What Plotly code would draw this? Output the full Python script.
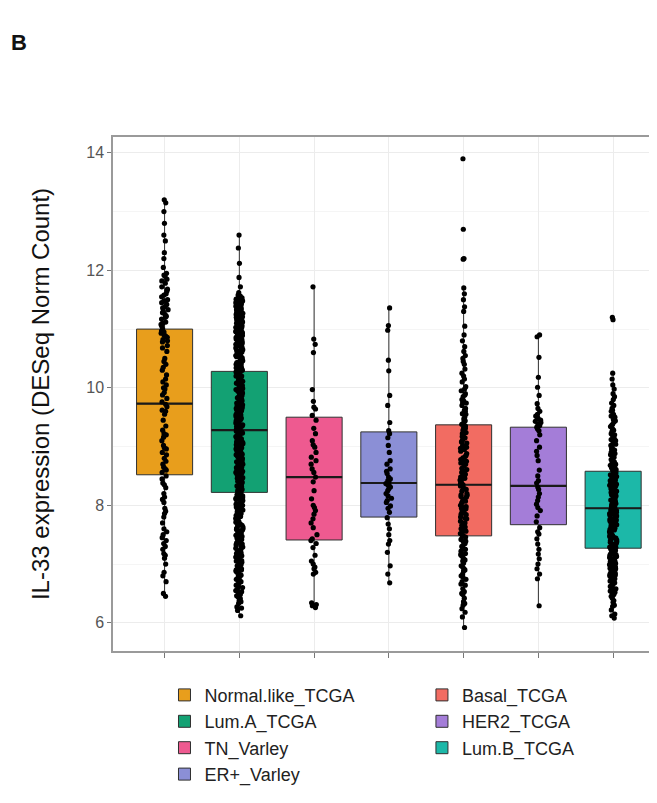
import plotly.graph_objects as go

categories = ["Normal.like_TCGA", "Lum.A_TCGA", "TN_Varley", "ER+_Varley",
              "Basal_TCGA", "HER2_TCGA", "Lum.B_TCGA"]

# box statistics
q1s = [8.52, 8.22, 7.41, 7.80, 7.48, 7.67, 7.27]
medians = [9.73, 9.28, 8.48, 8.38, 8.35, 8.33, 7.95]
q3s = [11.00, 10.28, 9.50, 9.25, 9.37, 9.33, 8.58]
lowers = [6.45, 6.12, 6.27, 6.68, 5.92, 6.28, 6.08]
uppers = [13.20, 12.60, 11.72, 11.38, 11.70, 10.90, 10.25]

# individual samples
normal_like = [13.2, 13.15, 13.0, 12.8, 12.6, 12.5, 12.3, 12.2, 12.05, 11.95, 11.9, 11.85,
               11.78, 11.72, 11.65, 11.6, 11.55, 11.5, 11.45, 11.42, 11.38, 11.33, 11.3, 11.25,
               11.2, 11.17, 11.12, 11.08, 11.05, 11.0, 10.97, 10.93, 10.9, 10.86, 10.82, 10.78,
               10.72, 10.62, 10.5, 10.45, 10.35, 10.3, 10.22, 10.15, 10.1, 10.05, 9.98, 9.92,
               9.88, 9.82, 9.76, 9.72, 9.68, 9.62, 9.55, 9.45, 9.35, 9.28, 9.22, 9.16,
               9.1, 9.02, 8.96, 8.9, 8.86, 8.8, 8.75, 8.7, 8.65, 8.6, 8.56, 8.5,
               8.45, 8.38, 8.3, 8.2, 8.14, 8.05, 7.95, 7.86, 7.8, 7.7, 7.6, 7.5,
               7.45, 7.4, 7.35, 7.3, 7.25, 7.18, 7.1, 7.0, 6.86, 6.8, 6.7, 6.5, 6.45,
               11.92, 11.82, 11.68, 11.58, 11.48, 11.36, 11.28, 11.22, 11.1, 10.95, 10.88,
               10.8, 10.68, 10.4, 10.0, 9.6, 9.2, 8.98, 8.62, 8.35, 8.1, 7.9, 7.55, 7.15]

lum_a = [6.12, 6.21, 6.27, 6.33, 6.36, 6.41, 6.44, 6.48, 6.53, 6.57, 6.6, 6.64, 6.66, 6.71,
         6.74, 6.77, 6.81, 6.84, 6.86, 6.9, 6.93, 6.97, 6.99, 7.03, 7.06, 7.08, 7.12, 7.14,
         7.18, 7.21, 7.23, 7.27, 7.29, 7.33, 7.36, 7.38, 7.42, 7.44, 7.47, 7.51, 7.53, 7.56,
         7.59, 7.61, 7.65, 7.68, 7.7, 7.73, 7.76, 7.78, 7.81, 7.84, 7.87, 7.89, 7.92, 7.95,
         7.97, 8.0, 8.03, 8.05, 8.08, 8.1, 8.13, 8.16, 8.18, 8.21, 8.23, 8.26, 8.28, 8.31,
         8.33, 8.36, 8.38, 8.41, 8.43, 8.46, 8.48, 8.51, 8.53, 8.56, 8.58, 8.6, 8.63, 8.65,
         8.68, 8.7, 8.72, 8.75, 8.77, 8.8, 8.82, 8.84, 8.87, 8.89, 8.92, 8.94, 8.96, 8.99,
         9.01, 9.03, 9.06, 9.08, 9.1, 9.13, 9.15, 9.17, 9.2, 9.22, 9.24, 9.27, 9.29, 9.31,
         9.34, 9.36, 9.38, 9.41, 9.43, 9.45, 9.48, 9.5, 9.52, 9.55, 9.57, 9.59, 9.62, 9.64,
         9.66, 9.69, 9.71, 9.73, 9.76, 9.78, 9.8, 9.83, 9.85, 9.87, 9.9, 9.92, 9.94, 9.97,
         9.99, 10.01, 10.04, 10.06, 10.08, 10.11, 10.13, 10.15, 10.18, 10.2, 10.22, 10.25,
         10.27, 10.29, 10.32, 10.34, 10.36, 10.39, 10.41, 10.43, 10.46, 10.48, 10.5, 10.53,
         10.55, 10.57, 10.6, 10.62, 10.64, 10.67, 10.69, 10.71, 10.74, 10.76, 10.78, 10.81,
         10.83, 10.85, 10.88, 10.9, 10.92, 10.95, 10.97, 10.99, 11.02, 11.04, 11.06, 11.09,
         11.11, 11.13, 11.16, 11.18, 11.2, 11.23, 11.25, 11.27, 11.3, 11.32, 11.34, 11.37,
         11.39, 11.41, 11.44, 11.46, 11.48, 11.51, 11.53, 11.55, 11.58, 11.62, 11.72, 11.88,
         12.12, 12.38, 12.6,
         6.55, 6.9, 7.25, 7.6, 7.95, 8.3, 8.65, 9.0, 9.35, 9.7, 10.05, 10.4, 10.75, 11.1,
         11.45, 6.7, 7.05, 7.4, 7.75, 8.1, 8.45, 8.8, 9.15, 9.5, 9.85, 10.2, 10.55, 10.9,
         11.25, 11.5, 11.35, 11.15, 10.95, 8.25, 8.55, 8.85, 9.05, 9.25, 9.45, 9.65,
         6.25, 6.38, 6.46, 6.62, 6.68, 6.79, 6.88, 6.95, 7.01, 7.1, 7.16, 7.19, 7.31, 7.34,
         7.46, 7.49, 7.58, 7.63, 7.66, 7.71, 7.79, 7.83, 7.86, 7.91, 7.98, 8.02, 8.07, 8.12,
         8.15, 8.19, 8.22, 8.27, 8.32, 8.35, 8.39, 8.42, 8.47, 8.52, 8.57, 8.62, 8.64, 8.69,
         8.73, 8.76, 8.79, 8.83, 8.86, 8.91, 8.95, 8.98, 9.02, 9.07, 9.11, 9.14, 9.19, 9.23,
         9.26, 9.3, 9.33, 9.37, 9.4, 9.44, 9.47, 9.51, 9.54, 9.58, 9.61, 9.63, 9.67, 9.7,
         9.74, 9.77, 9.81, 9.84, 9.88, 9.91, 9.95, 9.98, 10.02, 10.05, 10.09, 10.12, 10.16,
         10.19, 10.23, 10.26, 10.3, 10.33, 10.37, 10.4, 10.44, 10.47, 10.51, 10.54, 10.58,
         10.61, 10.65, 10.68, 10.72, 10.75, 10.79, 10.82, 10.86, 10.89, 10.93, 10.96, 11.0,
         11.03, 11.07, 11.1, 11.14, 11.17, 11.21, 11.24, 11.28, 11.31, 11.35, 11.38, 11.42,
         11.45, 11.49, 11.52, 11.56, 11.12, 11.22, 11.33, 11.43, 11.03, 10.93, 10.84, 6.52,
         6.73, 6.92, 7.13, 7.37, 7.54, 7.74, 7.93, 8.14, 8.34, 8.54, 8.74, 8.94, 9.14, 9.34,
         9.54, 9.74, 9.94, 10.14, 10.34, 10.54, 10.74, 10.94]

tn_varley = [11.72, 10.83, 10.74, 10.6, 9.97, 9.77, 9.67, 9.64, 9.53, 9.45, 9.31, 9.22,
             9.1, 9.03, 8.99, 8.9, 8.82, 8.76, 8.7, 8.62, 8.56, 8.48, 8.4, 8.25, 8.11,
             8.0, 7.96, 7.91, 7.85, 7.77, 7.7, 7.62, 7.5, 7.43, 7.4, 7.35, 7.28, 7.15,
             7.05, 7.0, 6.95, 6.92, 6.86, 6.83, 6.34, 6.31, 6.29, 6.26]

er_varley = [11.36, 11.06, 10.98, 10.47, 10.29, 9.87, 9.7, 9.41, 9.27, 9.22, 9.15, 9.02,
             8.9, 8.76, 8.7, 8.62, 8.58, 8.54, 8.48, 8.45, 8.42, 8.4, 8.37, 8.35, 8.33,
             8.31, 8.28, 8.25, 8.2, 8.16, 8.12, 8.08, 8.05, 7.99, 7.95, 7.88, 7.79, 7.68,
             7.6, 7.5, 7.4, 7.34, 7.2, 6.97, 6.83, 6.68]

basal = [13.9, 12.7, 12.2, 12.19, 11.7, 11.6, 11.5, 11.38, 11.3, 11.05, 10.9, 10.7, 10.62,
         10.55, 10.45, 10.4, 10.32, 10.25, 10.15, 10.1, 10.02, 9.98, 9.9, 9.85, 9.8, 9.74,
         9.7, 9.65, 9.6, 9.56, 9.5, 9.47, 9.42, 9.38, 9.35, 9.31, 9.28, 9.24, 9.2, 9.17,
         9.13, 9.1, 9.06, 9.02, 8.99, 8.95, 8.92, 8.88, 8.85, 8.81, 8.78, 8.74, 8.7, 8.67,
         8.63, 8.6, 8.56, 8.53, 8.5, 8.46, 8.43, 8.4, 8.37, 8.35, 8.33, 8.3, 8.27, 8.24,
         8.2, 8.17, 8.14, 8.1, 8.07, 8.04, 8.0, 7.97, 7.94, 7.9, 7.87, 7.84, 7.8, 7.77,
         7.73, 7.7, 7.66, 7.63, 7.6, 7.56, 7.52, 7.49, 7.46, 7.42, 7.38, 7.35, 7.3, 7.26,
         7.22, 7.18, 7.14, 7.1, 7.05, 7.02, 6.97, 6.92, 6.88, 6.83, 6.78, 6.74, 6.7, 6.64,
         6.58, 6.53, 6.48, 6.42, 6.36, 6.3, 6.24, 6.18, 6.1, 5.92,
         9.95, 9.55, 9.15, 8.75, 8.45, 8.15, 7.85, 7.55, 7.25, 6.95, 9.75, 9.0, 8.55, 7.95,
         9.44, 9.33, 9.22, 9.08, 8.97, 8.83, 8.72, 8.61, 8.48, 8.38, 8.28, 8.18, 8.08, 7.98,
         7.88, 7.78, 7.68, 7.58, 7.48, 7.39, 7.28, 7.16, 7.07, 6.9, 6.8, 6.66, 6.5, 6.33,
         10.2, 10.5, 10.8, 9.62, 9.78, 9.88]

her2 = [10.9, 10.87, 10.52, 10.18, 10.01, 9.87, 9.73, 9.65, 9.6, 9.55, 9.52, 9.5, 9.48,
        9.45, 9.43, 9.41, 9.38, 9.36, 9.33, 9.3, 9.27, 9.2, 9.1, 8.99, 8.92, 8.85, 8.76,
        8.6, 8.5, 8.42, 8.38, 8.31, 8.27, 8.2, 8.14, 8.08, 8.02, 7.96, 7.91, 7.82, 7.72,
        7.62, 7.55, 7.51, 7.43, 7.34, 7.25, 7.17, 7.09, 7.0, 6.92, 6.83, 6.75, 6.29]

lum_b = [11.2, 11.16, 10.25, 10.15, 10.05, 9.98, 9.9, 9.85, 9.8, 9.74, 9.7, 9.65, 9.6,
         9.55, 9.5, 9.46, 9.42, 9.38, 9.34, 9.3, 9.26, 9.22, 9.18, 9.14, 9.1, 9.06,
         9.02, 8.98, 8.94, 8.9, 8.86, 8.82, 8.78, 8.74, 8.7, 8.67, 8.64, 8.61, 8.58,
         8.55, 8.52, 8.49, 8.46, 8.43, 8.4, 8.37, 8.34, 8.31, 8.28, 8.25, 8.22, 8.19,
         8.16, 8.13, 8.1, 8.07, 8.04, 8.01, 7.98, 7.95, 7.92, 7.89, 7.86, 7.83, 7.8,
         7.77, 7.74, 7.71, 7.68, 7.65, 7.62, 7.59, 7.56, 7.53, 7.5, 7.47, 7.44, 7.41,
         7.38, 7.35, 7.32, 7.29, 7.26, 7.23, 7.2, 7.17, 7.14, 7.11, 7.08, 7.05, 7.02,
         6.99, 6.96, 6.93, 6.9, 6.87, 6.84, 6.81, 6.78, 6.75, 6.72, 6.69, 6.66, 6.62,
         6.58, 6.54, 6.5, 6.45, 6.38, 6.3, 6.22, 6.15, 6.08,
         8.85, 8.5, 8.2, 7.9, 7.6, 7.3, 7.0, 6.7, 8.65, 8.35, 8.05, 7.75, 7.45, 7.15, 6.85,
         6.12, 6.28, 6.35, 6.42, 6.48, 6.52, 6.56, 6.6, 6.64, 6.68, 6.71, 6.74, 6.77, 6.8,
         6.83, 6.86, 6.89, 6.92, 6.95, 6.98, 7.01, 7.04, 7.07, 7.1, 7.13, 7.16, 7.19, 7.22,
         7.25, 7.28, 7.31, 7.34, 7.37, 7.4, 7.43, 7.46, 7.49, 7.52, 7.55, 7.58, 7.61, 7.64,
         7.67, 7.7, 7.73, 7.76, 7.79, 7.82, 7.85, 7.88, 7.91, 7.94, 7.97, 8.0, 8.03, 8.06,
         8.09, 8.12, 8.15, 8.18, 8.21, 8.24, 8.27, 8.3, 8.33, 8.36, 8.39, 8.42, 8.45, 8.48,
         8.51, 8.54, 8.57, 8.6, 8.63, 8.68, 8.73, 8.8, 8.88, 8.96, 9.04, 9.12, 9.2, 9.28,
         9.36, 9.44, 9.52, 9.62]

samples = [normal_like, lum_a, tn_varley, er_varley, basal, her2, lum_b]

colors = ["#E89E1C", "#13A173", "#EE5A90", "#8B8FD6", "#F26C62", "#A47DD8", "#1CB8A8"]
legend_ids = ["legend", "legend", "legend", "legend", "legend2", "legend2", "legend2"]

fig = go.Figure()
# filled boxes with whiskers
for i, cat in enumerate(categories):
    fig.add_trace(go.Box(
        x=[cat], q1=[q1s[i]], median=[medians[i]], q3=[q3s[i]],
        lowerfence=[lowers[i]], upperfence=[uppers[i]],
        name=cat, fillcolor=colors[i], line=dict(color="#303030", width=1.0),
        whiskerwidth=0, width=0.75, legend=legend_ids[i], showlegend=True,
        hoverinfo="skip",
    ))
# thicker median bars (a zero-height box at each median)
for i, cat in enumerate(categories):
    fig.add_trace(go.Box(
        x=[cat], q1=[medians[i]], median=[medians[i]], q3=[medians[i]],
        lowerfence=[medians[i]], upperfence=[medians[i]],
        name=cat + " median", fillcolor="rgba(0,0,0,0)",
        line=dict(color="#1a1a1a", width=2.2),
        whiskerwidth=0, width=0.75, showlegend=False, hoverinfo="skip",
    ))
# jittered sample points
for i, cat in enumerate(categories):
    fig.add_trace(go.Box(
        x=[cat] * len(samples[i]), y=samples[i], name=cat + " pts",
        boxpoints="all", jitter=0.13, pointpos=0, width=0.75,
        fillcolor="rgba(0,0,0,0)", line=dict(color="rgba(0,0,0,0)", width=0),
        marker=dict(color="black", size=5.2), showlegend=False, hoverinfo="skip",
    ))

font_family = "Arial, Liberation Sans, sans-serif"
fig.update_layout(
    width=649, height=795,
    paper_bgcolor="white", plot_bgcolor="white",
    margin=dict(l=105, r=0, t=129, b=152),
    font=dict(family=font_family, color="#222222"),
    boxmode="overlay",
    xaxis=dict(type="category", categoryarray=categories, range=[-0.69, 6.56],
               showticklabels=False, ticks="outside", ticklen=5, tickcolor="#777777",
               showgrid=True, gridcolor="#ececec", gridwidth=1,
               showline=True, linecolor="#9a9a9a", linewidth=1.5, mirror=True,
               zeroline=False),
    yaxis=dict(range=[5.52, 14.27], tickvals=[6, 8, 10, 12, 14],
               ticks="outside", ticklen=4, tickcolor="#777777",
               tickfont=dict(size=16, color="#555555"),
               showgrid=True, gridcolor="#ececec", gridwidth=1,
               minor=dict(dtick=1, showgrid=True, gridcolor="#f5f5f5"),
               showline=True, linecolor="#9a9a9a", linewidth=1.5, mirror=True,
               zeroline=False,
               title=dict(text="IL-33 expression (DESeq Norm Count)",
                          font=dict(size=24, color="#111111"), standoff=30)),
    legend=dict(x=0.095, y=-0.05, xanchor="left", yanchor="top",
                font=dict(size=18, color="#222222"), bgcolor="rgba(0,0,0,0)"),
    legend2=dict(x=0.57, y=-0.05, xanchor="left", yanchor="top",
                 font=dict(size=18, color="#222222"), bgcolor="rgba(0,0,0,0)"),
    annotations=[dict(text="<b>B</b>", xref="paper", yref="paper",
                      x=-0.192, y=1.184, xanchor="left", yanchor="middle",
                      showarrow=False, font=dict(size=22, color="#111111"))],
)

fig.write_html("out.html")
